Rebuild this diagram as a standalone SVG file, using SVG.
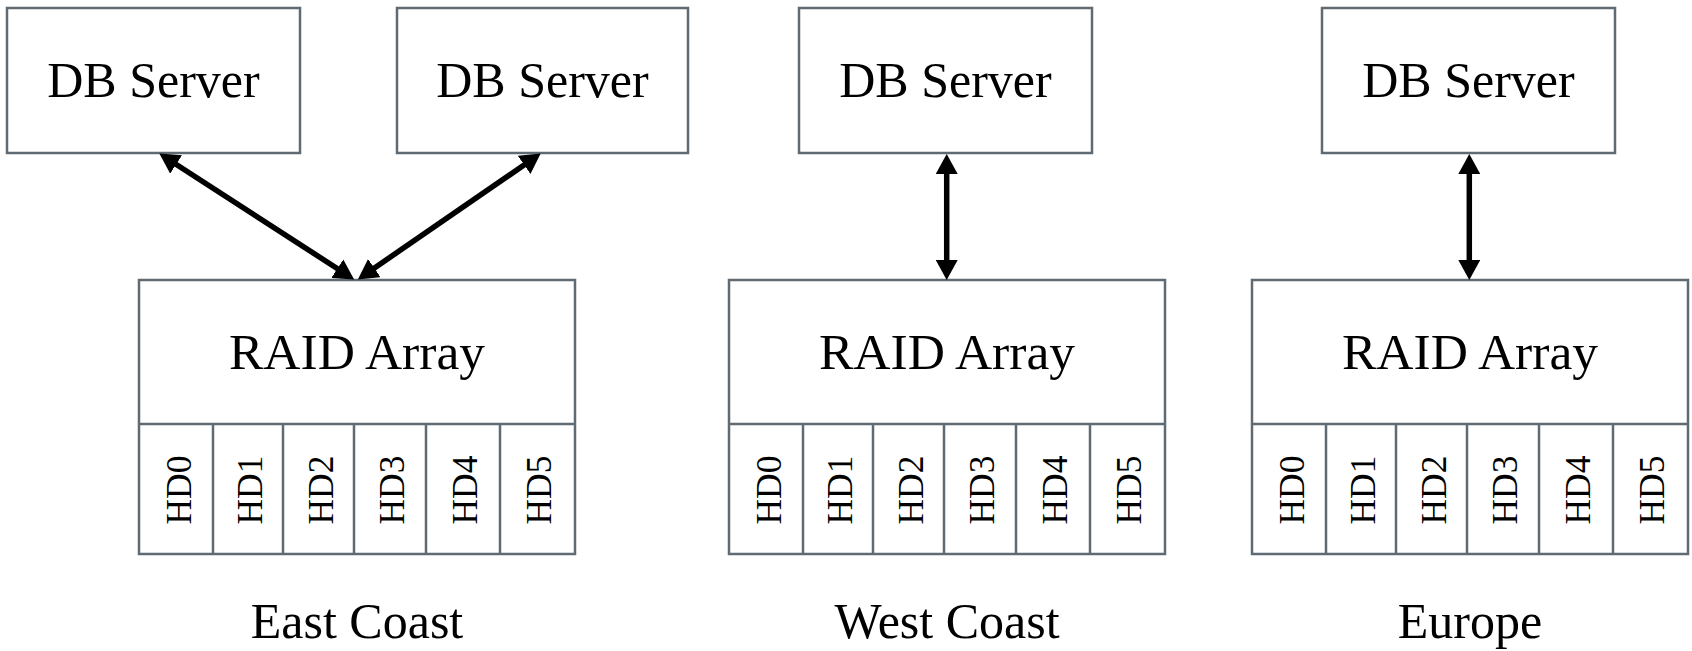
<svg xmlns="http://www.w3.org/2000/svg" width="1692" height="651" viewBox="0 0 1692 651">
<style>
  .box{fill:#ffffff;stroke:#5f6a72;stroke-width:2.5}
  .div{stroke:#5f6a72;stroke-width:2.5;fill:none}
  .t{font-family:"Liberation Serif","Times New Roman",serif;font-size:50px;fill:#000;text-anchor:middle}
  .ra{font-size:51.5px}
  .hd{font-family:"Liberation Serif","Times New Roman",serif;font-size:35.5px;fill:#000;text-anchor:middle}
  .arr{stroke:#000;stroke-width:5.5;fill:none;marker-start:url(#ah);marker-end:url(#ah)}
</style>
<defs>
  <marker id="ah" markerUnits="userSpaceOnUse" markerWidth="22" markerHeight="22" viewBox="0 0 22 22" refX="9" refY="11" orient="auto-start-reverse">
    <path d="M0,0 L20,11 L0,22 Z" fill="#000"/>
  </marker>
</defs>
<rect width="1692" height="651" fill="#ffffff"/>

<g id="db-east-1">
  <rect class="box" x="7" y="8" width="293" height="145"/>
  <text class="t" x="153.5" y="97">DB Server</text>
</g>
<g id="db-east-2">
  <rect class="box" x="397" y="8" width="291" height="145"/>
  <text class="t" x="542.5" y="97">DB Server</text>
</g>
<g id="db-west">
  <rect class="box" x="799" y="8" width="293" height="145"/>
  <text class="t" x="945.5" y="97">DB Server</text>
</g>
<g id="db-europe">
  <rect class="box" x="1322" y="8" width="293" height="145"/>
  <text class="t" x="1468.5" y="97">DB Server</text>
</g>

<g id="raid-east" transform="translate(139,280)">
  <rect class="box" x="0" y="0" width="436" height="274"/>
  <path class="div" d="M0,144 H436 M74,144 V274 M144,144 V274 M215,144 V274 M287,144 V274 M361,144 V274"/>
  <text class="t ra" x="218" y="89">RAID Array</text>
  <text class="hd" transform="translate(51.5,210) rotate(-90)">HD0</text>
  <text class="hd" transform="translate(123,210) rotate(-90)">HD1</text>
  <text class="hd" transform="translate(193.5,210) rotate(-90)">HD2</text>
  <text class="hd" transform="translate(265,210) rotate(-90)">HD3</text>
  <text class="hd" transform="translate(338,210) rotate(-90)">HD4</text>
  <text class="hd" transform="translate(412,210) rotate(-90)">HD5</text>
</g>
<g id="raid-west" transform="translate(729,280)">
  <rect class="box" x="0" y="0" width="436" height="274"/>
  <path class="div" d="M0,144 H436 M74,144 V274 M144,144 V274 M215,144 V274 M287,144 V274 M361,144 V274"/>
  <text class="t ra" x="218" y="89">RAID Array</text>
  <text class="hd" transform="translate(51.5,210) rotate(-90)">HD0</text>
  <text class="hd" transform="translate(123,210) rotate(-90)">HD1</text>
  <text class="hd" transform="translate(193.5,210) rotate(-90)">HD2</text>
  <text class="hd" transform="translate(265,210) rotate(-90)">HD3</text>
  <text class="hd" transform="translate(338,210) rotate(-90)">HD4</text>
  <text class="hd" transform="translate(412,210) rotate(-90)">HD5</text>
</g>
<g id="raid-europe" transform="translate(1252,280)">
  <rect class="box" x="0" y="0" width="436" height="274"/>
  <path class="div" d="M0,144 H436 M74,144 V274 M144,144 V274 M215,144 V274 M287,144 V274 M361,144 V274"/>
  <text class="t ra" x="218" y="89">RAID Array</text>
  <text class="hd" transform="translate(51.5,210) rotate(-90)">HD0</text>
  <text class="hd" transform="translate(123,210) rotate(-90)">HD1</text>
  <text class="hd" transform="translate(193.5,210) rotate(-90)">HD2</text>
  <text class="hd" transform="translate(265,210) rotate(-90)">HD3</text>
  <text class="hd" transform="translate(338,210) rotate(-90)">HD4</text>
  <text class="hd" transform="translate(412,210) rotate(-90)">HD5</text>
</g>

<g id="label-east"><text class="t" x="357" y="638">East Coast</text></g>
<g id="label-west"><text class="t" x="947" y="638">West Coast</text></g>
<g id="label-europe"><text class="t" x="1470" y="638">Europe</text></g>

<g id="connectors">
  <line class="arr" x1="168.6" y1="159.5" x2="344.9" y2="273.5"/>
  <line class="arr" x1="531.6" y1="159.8" x2="366.9" y2="273.2"/>
  <line class="arr" x1="946.7" y1="165" x2="946.7" y2="269"/>
  <line class="arr" x1="1469.3" y1="165" x2="1469.3" y2="269"/>
</g>
</svg>
